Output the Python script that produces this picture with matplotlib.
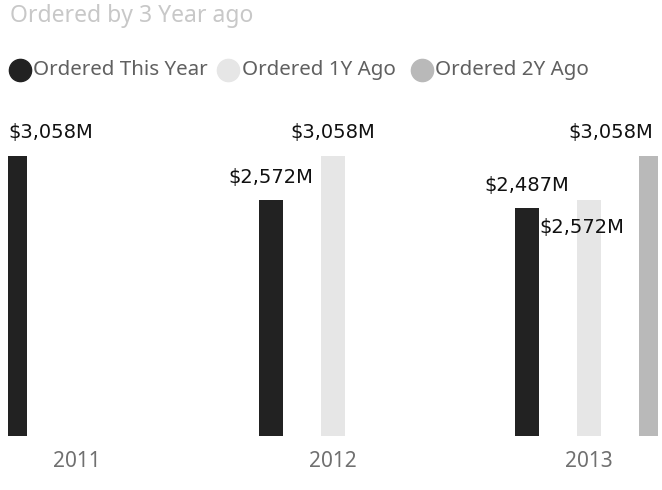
import matplotlib
matplotlib.use("Agg")
import matplotlib.pyplot as plt
import numpy as np

years = ["2011", "2012", "2013"]
series_names = ["Ordered This Year", "Ordered 1Y Ago", "Ordered 2Y Ago"]
this_year = [3058, 2572, 2487]
one_y_ago = [None, 3058, 2572]
two_y_ago = [None, None, 3058]
labels_this = ["$3,058M", "$2,572M", "$2,487M"]
labels_1y = [None, "$3,058M", "$2,572M"]
labels_2y = [None, None, "$3,058M"]

colors = ["#222222", "#e6e6e6", "#b9b9b9"]
W, H = 662, 490
fig = plt.figure(figsize=(W / 100, H / 100), dpi=100)
ax = fig.add_axes([8 / W, 54 / H, 650 / W, 336 / H])

x = np.arange(len(years))
offsets = [-0.242, 0.0, 0.242]
bw = 0.094
series = [this_year, one_y_ago, two_y_ago]
slabels = [labels_this, labels_1y, labels_2y]

# label offsets in pixels (dx, dy) per category/series for collision handling
label_adj = {
    (0, 0): (36, 23),
    (2, 1): (-7, -27),
    (2, 2): (-40, 23),
}

for si, (vals, labs) in enumerate(zip(series, slabels)):
    xs = [x[i] + offsets[si] for i, v in enumerate(vals) if v is not None]
    vs = [v for v in vals if v is not None]
    ax.bar(xs, vs, width=bw, color=colors[si], zorder=2)
    for i, v in enumerate(vals):
        if v is None:
            continue
        dx, dy = label_adj.get((i, si), (0, 23))
        ax.annotate(labs[i], (x[i] + offsets[si], v), xytext=(dx, dy),
                    textcoords="offset pixels", ha="center", va="center",
                    fontsize=14, color="#111111", family="DejaVu Sans",
                    annotation_clip=False)

ax.set_xlim(-0.27, 2.27)
ax.set_ylim(0, 3669)
ax.set_xticks(x)
ax.set_xticklabels(years, fontsize=15, color="#707070", family="Noto Sans")
ax.tick_params(axis="x", length=0, pad=10.5)
ax.set_yticks([])
for s in ax.spines.values():
    s.set_visible(False)

fig.text(10 / W, 1 - 16 / H, "Ordered by 3 Year ago", fontsize=16.5,
         color="#c8c8c8", family="Noto Sans", va="center", ha="left")

# manual legend
leg_circle_x = [20, 228, 422]
leg_text_x = [33, 242, 435]
leg_y = 1 - 70 / H
for c, cx, tx, name in zip(colors, leg_circle_x, leg_text_x, series_names):
    fig.lines.append(plt.Line2D([cx / W], [leg_y], marker="o", markersize=16,
                                markerfacecolor=c, markeredgecolor=c,
                                linestyle="none", transform=fig.transFigure))
    fig.text(tx / W, leg_y, name, fontsize=14.8, color="#606060",
             family="Noto Sans", va="center", ha="left")

fig.savefig("out.png", dpi=100)
